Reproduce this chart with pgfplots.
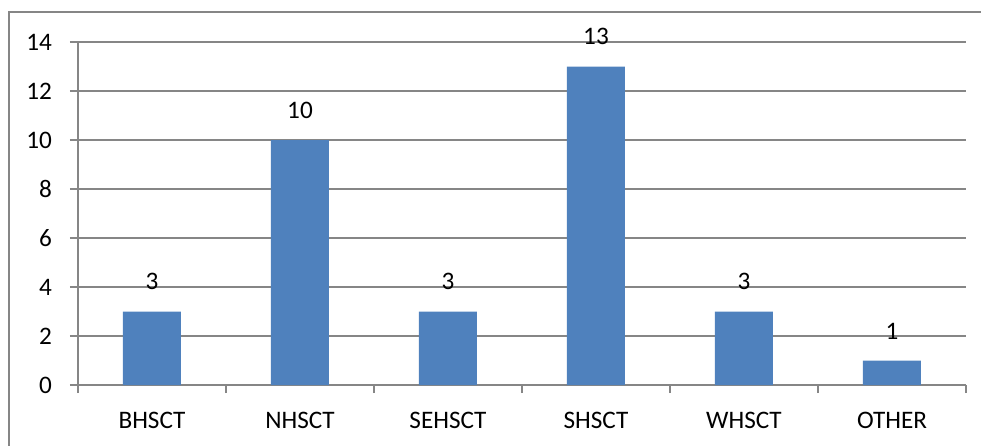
\documentclass[border=0pt]{standalone}
\usepackage{fontspec}
\setmainfont{Carlito}
\usepackage{pgfplots}
\pgfplotsset{compat=1.18}
\definecolor{barBlue}{HTML}{4F81BD}
\definecolor{gridGray}{HTML}{868686}

\begin{document}
\begin{tikzpicture}
% image px -> pt: x' = (x-78)/2, y' = (385-y)/2
\useasboundingbox (-39pt,-30pt) rectangle (451.5pt,192.5pt);
\draw[gridGray, line width=0.9pt] (-34.5pt,-31pt) -- (-34.5pt,186.5pt) -- (451.5pt,186.5pt);
\begin{axis}[
  at={(0,0)}, anchor=south west,
  scale only axis,
  width=444pt, height=171.5pt,
  xmin=-0.5, xmax=5.5,
  ymin=0, ymax=14,
  ytick={0,2,...,14},
  xtick={0,...,5},
  xticklabels={BHSCT, NHSCT, SEHSCT, SHSCT, WHSCT, OTHER},
  minor xtick={-0.5,0.5,...,5.5},
  major x tick style={draw=none},
  tick align=outside,
  tick pos=left,
  major tick length=4pt,
  minor tick length=4pt,
  every tick/.style={gridGray, line width=0.8pt},
  axis x line*=bottom,
  axis y line*=left,
  axis line style={gridGray, line width=0.8pt},
  ymajorgrids,
  grid style={gridGray, line width=0.8pt},
  font=\fontsize{12.6}{15}\selectfont,
  /pgf/number format/assume math mode=true,
  yticklabel style={anchor=east, xshift=-5.5pt},
  xticklabel style={anchor=north, yshift=-6pt},
  ybar, bar width=29pt,
  nodes near coords,
  nodes near coords style={anchor=south, inner sep=0pt, yshift=10.5pt, font=\fontsize{12.6}{15}\selectfont},
]
\addplot[fill=barBlue, draw=none] coordinates {
  (0,3) (1,10) (2,3) (3,13) (4,3) (5,1)
};
\end{axis}
\end{tikzpicture}
\end{document}
